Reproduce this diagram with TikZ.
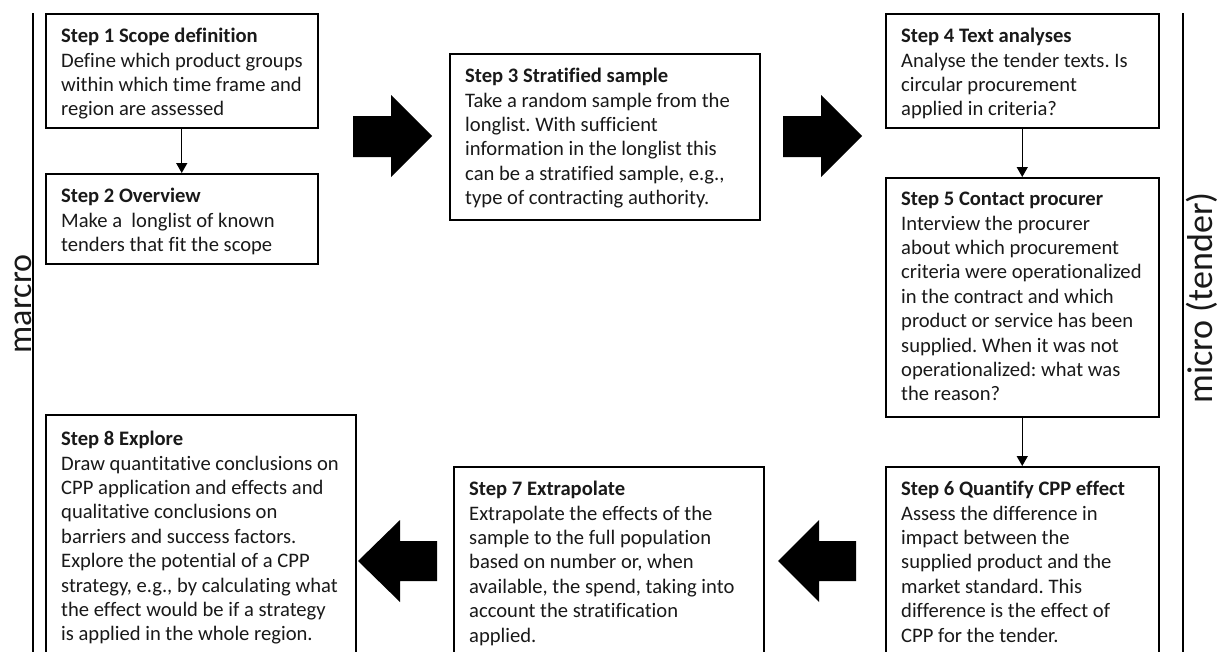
\documentclass[tikz,border=0pt]{standalone}
\usepackage{fontspec}
\setmainfont[Ligatures={NoCommon}]{Carlito}
\usetikzlibrary{arrows.meta}
\frenchspacing
\begin{document}
\begin{tikzpicture}[x=1pt,y=-1pt,
  stepbox/.style={draw=black, line width=1.5pt, inner sep=0pt, anchor=north west},
  steptext/.style={anchor=north west, inner sep=0pt, align=left, font=\fontsize{20.6}{24.4}\selectfont, text=black!90},
  flow/.style={line width=1.4pt, -{Triangle[width=11pt,length=10pt]}},
  blockarrow/.style={fill=black},
  sideline/.style={line width=1.6pt},
  sidelabel/.style={rotate=90, anchor=base, inner sep=0pt, text=black!90}]
\useasboundingbox (0,0) rectangle (1231,651);
\clip (0,0) rectangle (1231,651);

% boxes
\node[stepbox, minimum width=272pt, minimum height=114pt] (s1) at (45,13) {};
\node[stepbox, minimum width=272pt, minimum height=90pt]  (s2) at (45,173) {};
\node[stepbox, minimum width=310pt, minimum height=166pt] (s3) at (449,53) {};
\node[stepbox, minimum width=273pt, minimum height=114pt] (s4) at (885,13) {};
\node[stepbox, minimum width=273pt, minimum height=239pt] (s5) at (885,177) {};
\node[stepbox, minimum width=273pt, minimum height=230pt] (s6) at (885,466) {};
\node[stepbox, minimum width=310pt, minimum height=230pt] (s7) at (453,466) {};
\node[stepbox, minimum width=310pt, minimum height=260pt] (s8) at (45,414) {};

% texts
\node[steptext] (t1) at ([xshift=16pt,yshift=-15pt]s1.north west) {\textbf{Step 1 Scope definition}\\Define which product groups\\within which time frame and\\region are assessed};
\node[steptext] (t2) at ([xshift=16pt,yshift=-15pt]s2.north west) {\textbf{Step 2 Overview}\\Make a~ longlist of known\\tenders that fit the scope};
\node[steptext] (t3) at ([xshift=16pt,yshift=-15pt]s3.north west) {\textbf{Step 3 Stratified sample}\\Take a random sample from the\\longlist. With sufficient\\information in the longlist this\\can be a stratified sample, e.g.,\\type of contracting authority.};
\node[steptext] (t4) at ([xshift=16pt,yshift=-15pt]s4.north west) {\textbf{Step 4 Text analyses}\\Analyse the tender texts. Is\\circular procurement\\applied in criteria?};
\node[steptext] (t5) at ([xshift=16pt,yshift=-15pt]s5.north west) {\textbf{Step 5 Contact procurer}\\Interview the procurer\\about which procurement\\criteria were operationalized\\in the contract and which\\product or service has been\\supplied. When it was not\\operationalized: what was\\the reason?};
\node[steptext] (t6) at ([xshift=16pt,yshift=-15pt]s6.north west) {\textbf{Step 6 Quantify CPP effect}\\Assess the difference in\\impact between the\\supplied product and the\\market standard. This\\difference is the effect of\\CPP for the tender.};
\node[steptext] (t7) at ([xshift=16pt,yshift=-15pt]s7.north west) {\textbf{Step 7 Extrapolate}\\Extrapolate the effects of the\\sample to the full population\\based on number or, when\\available, the spend, taking into\\account the stratification\\applied.};
\node[steptext] (t8) at ([xshift=16pt,yshift=-17pt]s8.north west) {\textbf{Step 8 Explore}\\Draw quantitative conclusions on\\CPP application and effects and\\qualitative conclusions on\\barriers and success factors.\\Explore the potential of a CPP\\strategy, e.g., by calculating what\\the effect would be if a strategy\\is applied in the whole region.};

% thin connectors
\draw[flow] (s1.south) -- (s1.south |- s2.north);
\draw[flow] (s4.south) -- (s4.south |- s5.north);
\draw[flow] (s5.south) -- (s5.south |- s6.north);

% block arrows
\fill[blockarrow] (353,116) -- (391,116) -- (391,95) -- (432,136) -- (391,177) -- (391,157) -- (353,157) -- cycle;
\fill[blockarrow] (783,116) -- (821,116) -- (821,95) -- (862,136) -- (821,177) -- (821,157) -- (783,157) -- cycle;
\fill[blockarrow] (856,541) -- (819,541) -- (819,520) -- (778,561) -- (819,602) -- (819,581) -- (856,581) -- cycle;
\fill[blockarrow] (437,541) -- (400,541) -- (400,520) -- (358,561) -- (400,602) -- (400,581) -- (437,581) -- cycle;

% side lines and labels
\coordinate (ltop) at (33,13);
\coordinate (lbot) at (33,660);
\coordinate (rtop) at (1183,13);
\coordinate (rbot) at (1183,660);
\draw[sideline] (ltop) -- (lbot);
\draw[sideline] (rtop) -- (rbot);
\node[sidelabel, font=\fontsize{34}{38}\selectfont] (macro) at (31,304) {marcro};
\node[sidelabel, font=\fontsize{36}{40}\selectfont] (micro) at (1212,298) {micro (tender)};
\end{tikzpicture}
\end{document}
